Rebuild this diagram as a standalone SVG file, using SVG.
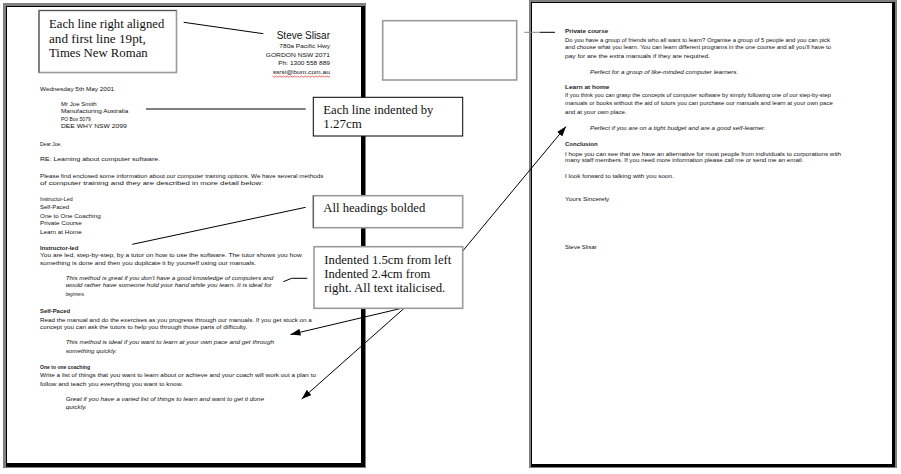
<svg xmlns="http://www.w3.org/2000/svg" width="901" height="474" viewBox="0 0 901 474">
<style>
.t{font-family:"Liberation Sans",Arial,sans-serif;font-size:5.6px;fill:#111}
.b{font-weight:bold;fill:#222}
.i{font-style:italic}
.c{font-family:"Liberation Serif","Times New Roman",serif;font-size:13px;fill:#111}
.cb{fill:#fff;stroke:#9a9a9a;stroke-width:1.6}
.ce{fill:none;stroke:#555;stroke-width:1}
.ln{fill:none;stroke:#000;stroke-width:1}
</style>
<defs>
<marker id="ah" markerWidth="10" markerHeight="7" refX="10" refY="3.5" orient="auto" markerUnits="userSpaceOnUse">
<path d="M0,0 L10,3.5 L0,7 z" fill="#000"/>
</marker>
</defs>
<rect width="901" height="474" fill="#fff"/>

<g id="page-left">
<rect x="3" y="3" width="363" height="465" fill="#808080"/>
<rect x="6" y="6" width="359" height="461" fill="#000"/>
<rect x="7" y="7" width="354" height="456" fill="#fff"/>
<text class="t" x="276.7" y="39.3" style="font-size:10px" textLength="53.3" lengthAdjust="spacingAndGlyphs">Steve Slisar</text>
<text class="t" x="279.3" y="48.3" textLength="50.7" lengthAdjust="spacingAndGlyphs">780a Pacific Hwy</text>
<text class="t" x="265.7" y="57.3" textLength="64.3" lengthAdjust="spacingAndGlyphs">GORDON NSW 2071</text>
<text class="t" x="278.3" y="65.3" textLength="51.7" lengthAdjust="spacingAndGlyphs">Ph: 1300 558 889</text>
<text class="t" x="272.7" y="74" textLength="57.3" lengthAdjust="spacingAndGlyphs">ssrsi@bum.com.au</text>
<polyline points="272.7,76 274.5,77.2 276.3,76 278.1,77.2 279.9,76 281.7,77.2 283.5,76 285.3,77.2 287.1,76 288.9,77.2 290.7,76 292.5,77.2 294.3,76 296.1,77.2 297.9,76 299.7,77.2 301.5,76 303.3,77.2 305.1,76 306.9,77.2 308.7,76 310.5,77.2 312.3,76 314.1,77.2 315.9,76 317.7,77.2 319.5,76 321.3,77.2 323.1,76 324.9,77.2 326.7,76 328.5,77.2 330,76" fill="none" stroke="#e00" stroke-width="0.6"/>
<text class="t" x="40" y="90.7" textLength="74" lengthAdjust="spacingAndGlyphs">Wednesday 5th May 2001</text>
<text class="t" x="61" y="106" textLength="35.7" lengthAdjust="spacingAndGlyphs">Mr Joe Smith</text>
<text class="t" x="61" y="113.3" textLength="67.3" lengthAdjust="spacingAndGlyphs">Manufacturing Australia</text>
<text class="t" x="61" y="120.7" textLength="29.7" lengthAdjust="spacingAndGlyphs">PO Box 5079</text>
<text class="t" x="61" y="128" textLength="65.7" lengthAdjust="spacingAndGlyphs">DEE WHY NSW 2099</text>
<text class="t" x="40" y="146" textLength="21.7" lengthAdjust="spacingAndGlyphs">Dear Joe,</text>
<text class="t" x="40" y="161" textLength="120" lengthAdjust="spacingAndGlyphs">RE: Learning about computer software.</text>
<text class="t" x="40" y="177.7" textLength="283.3" lengthAdjust="spacingAndGlyphs">Please find enclosed some information about our computer training options.  We have several methods</text>
<text class="t" x="40" y="185" textLength="223.3" lengthAdjust="spacingAndGlyphs">of computer training and they are described in more detail below:</text>
<text class="t" x="40" y="201" textLength="32.7" lengthAdjust="spacingAndGlyphs">Instructor-Led</text>
<text class="t" x="40" y="209" textLength="29" lengthAdjust="spacingAndGlyphs">Self-Paced</text>
<text class="t" x="40" y="217.7" textLength="60.7" lengthAdjust="spacingAndGlyphs">One to One Coaching</text>
<text class="t" x="40" y="225.3" textLength="41.7" lengthAdjust="spacingAndGlyphs">Private Course</text>
<text class="t" x="40" y="234.3" textLength="41.7" lengthAdjust="spacingAndGlyphs">Learn at Home</text>
<text class="t b" x="40" y="250" textLength="38.3" lengthAdjust="spacingAndGlyphs">Instructor-led</text>
<text class="t" x="40" y="257.3" textLength="261.7" lengthAdjust="spacingAndGlyphs">You are led, step-by-step, by a tutor on how to use the software. The tutor shows you how</text>
<text class="t" x="40" y="265.3" textLength="216" lengthAdjust="spacingAndGlyphs">something is done and then you duplicate it by yourself using our manuals.</text>
<text class="t i" x="65.7" y="280" textLength="207.6" lengthAdjust="spacingAndGlyphs">This method is great if you don't have a good knowledge of computers and</text>
<text class="t i" x="65.7" y="287.3" textLength="206" lengthAdjust="spacingAndGlyphs">would rather have someone hold your hand while you learn. It is ideal for</text>
<text class="t i" x="65.7" y="295.7" textLength="19.3" lengthAdjust="spacingAndGlyphs">beginners.</text>
<text class="t b" x="40" y="313.3" textLength="30" lengthAdjust="spacingAndGlyphs">Self-Paced</text>
<text class="t" x="40" y="321.7" textLength="271.7" lengthAdjust="spacingAndGlyphs">Read the manual and do the exercises as you progress through our manuals.  If you get stuck on a</text>
<text class="t" x="40" y="329.3" textLength="207.3" lengthAdjust="spacingAndGlyphs">concept you can ask the tutors to help you through those parts of difficulty.</text>
<text class="t i" x="65.7" y="344.3" textLength="208.3" lengthAdjust="spacingAndGlyphs">This method is ideal if you want to learn at your own pace and get through</text>
<text class="t i" x="65.7" y="352.7" textLength="51" lengthAdjust="spacingAndGlyphs">something quickly.</text>
<text class="t b" x="40" y="369.3" textLength="50" lengthAdjust="spacingAndGlyphs">One to one coaching</text>
<text class="t" x="40" y="377.3" textLength="276" lengthAdjust="spacingAndGlyphs">Write a list of things that you want to learn about or achieve and your coach will work out a plan to</text>
<text class="t" x="40" y="385.7" textLength="142.7" lengthAdjust="spacingAndGlyphs">follow and teach you everything you want to know.</text>
<text class="t i" x="65.7" y="400.7" textLength="198.3" lengthAdjust="spacingAndGlyphs">Great if you have a varied list of things to learn and want to get it done</text>
<text class="t i" x="65.7" y="409" textLength="21" lengthAdjust="spacingAndGlyphs">quickly.</text>
</g>

<g id="page-right">
<rect x="529" y="0" width="368" height="468" fill="#808080"/>
<rect x="531" y="2" width="364" height="465" fill="#000"/>
<rect x="532" y="3" width="360" height="461" fill="#fff"/>
<text class="t b" x="565" y="33.3" textLength="43.3" lengthAdjust="spacingAndGlyphs">Private course</text>
<text class="t" x="565" y="41.7" textLength="265" lengthAdjust="spacingAndGlyphs">Do you have a group of friends who all want to learn? Organise a group of 5 people and you can pick</text>
<text class="t" x="565" y="49.3" textLength="266" lengthAdjust="spacingAndGlyphs">and choose what you learn.  You can learn different programs in the one course and all you'll have to</text>
<text class="t" x="565" y="58.3" textLength="145" lengthAdjust="spacingAndGlyphs">pay for are the extra manuals if they are required.</text>
<text class="t i" x="590" y="74" textLength="148.3" lengthAdjust="spacingAndGlyphs">Perfect for a group of like-minded computer learners.</text>
<text class="t b" x="565" y="89.3" textLength="44.3" lengthAdjust="spacingAndGlyphs">Learn at home</text>
<text class="t" x="565" y="97.3" textLength="266" lengthAdjust="spacingAndGlyphs">If you think you can grasp the concepts of computer software by simply following one of our step-by-step</text>
<text class="t" x="565" y="105" textLength="267.7" lengthAdjust="spacingAndGlyphs">manuals or books without the aid of tutors you can purchase our manuals and learn at your own pace</text>
<text class="t" x="565" y="114.3" textLength="61.7" lengthAdjust="spacingAndGlyphs">and at your own place.</text>
<text class="t i" x="590" y="130" textLength="175.7" lengthAdjust="spacingAndGlyphs">Perfect if you are on a tight budget and are a good self-learner.</text>
<text class="t b" x="565" y="145.7" textLength="32.7" lengthAdjust="spacingAndGlyphs">Conclusion</text>
<text class="t" x="565" y="156" textLength="276" lengthAdjust="spacingAndGlyphs">I hope you can see that we have an alternative for most people from individuals to corporations with</text>
<text class="t" x="565" y="162.3" textLength="238.3" lengthAdjust="spacingAndGlyphs">many staff members.  If you need more information please call me or send me an email.</text>
<text class="t" x="565" y="177.7" textLength="109" lengthAdjust="spacingAndGlyphs">I look forward to talking with you soon.</text>
<text class="t" x="565" y="201" textLength="44.3" lengthAdjust="spacingAndGlyphs">Yours Sincerely</text>
<text class="t" x="565" y="249.3" textLength="31.7" lengthAdjust="spacingAndGlyphs">Steve Slisar</text>
</g>

<g id="connectors">
<line class="ln" x1="183.7" y1="22.3" x2="263.3" y2="33.7"/>
<line class="ln" x1="146" y1="109" x2="305.7" y2="109"/>
<line class="ln" x1="305.7" y1="207.3" x2="132.3" y2="244.3"/>
<polyline class="ln" points="283.3,281.7 291.7,278.3 307.3,278.3"/>
<line class="ln" x1="405" y1="307.5" x2="290.5" y2="334.5" marker-end="url(#ah)"/>
<line class="ln" x1="405" y1="307.5" x2="301.7" y2="399" marker-end="url(#ah)"/>
<line class="ln" x1="462.7" y1="251" x2="566" y2="126.5" marker-end="url(#ah)"/>
<line x1="524.3" y1="32.3" x2="540" y2="32.3" stroke="#888" stroke-width="1"/>
<line class="ln" x1="540" y1="32.3" x2="555" y2="32.3"/>
</g>

<g id="callout-right-aligned">
<rect class="cb" x="39" y="10.5" width="137.5" height="62"/>
<polyline class="ce" points="39,72.5 39,10.5 176.5,10.5"/>
<text class="c" x="49" y="28.3" textLength="115.3" lengthAdjust="spacingAndGlyphs">Each line right aligned</text>
<text class="c" x="49" y="42.6" textLength="96.7" lengthAdjust="spacingAndGlyphs">and first line 19pt,</text>
<text class="c" x="49" y="56.9" textLength="98.7" lengthAdjust="spacingAndGlyphs">Times New Roman</text>
</g>

<g id="callout-indented">
<rect x="313.3" y="97.3" width="149.4" height="38.7" fill="#fff" stroke="#000" stroke-width="1"/>
<text class="c" x="323.3" y="114" textLength="110" lengthAdjust="spacingAndGlyphs">Each line indented by</text>
<text class="c" x="323.3" y="128.3" textLength="38.4" lengthAdjust="spacingAndGlyphs">1.27cm</text>
</g>

<g id="callout-headings">
<rect class="cb" x="313.3" y="195.7" width="149.4" height="32"/>
<polyline class="ce" points="313.3,227.7 313.3,195.7"/>
<text class="c" x="323.3" y="211.7" textLength="102" lengthAdjust="spacingAndGlyphs">All headings bolded</text>
</g>

<g id="callout-italic">
<rect class="cb" x="314" y="246.7" width="148.7" height="61.6"/>
<text class="c" x="324.3" y="263.8" textLength="127" lengthAdjust="spacingAndGlyphs">Indented 1.5cm from left</text>
<text class="c" x="324.3" y="277.6" textLength="106" lengthAdjust="spacingAndGlyphs">Indented 2.4cm from</text>
<text class="c" x="324.3" y="291.6" textLength="121" lengthAdjust="spacingAndGlyphs">right. All text italicised.</text>
</g>

<g id="callout-empty">
<rect class="cb" x="382.7" y="20.7" width="134" height="59.3"/>
</g>
</svg>
